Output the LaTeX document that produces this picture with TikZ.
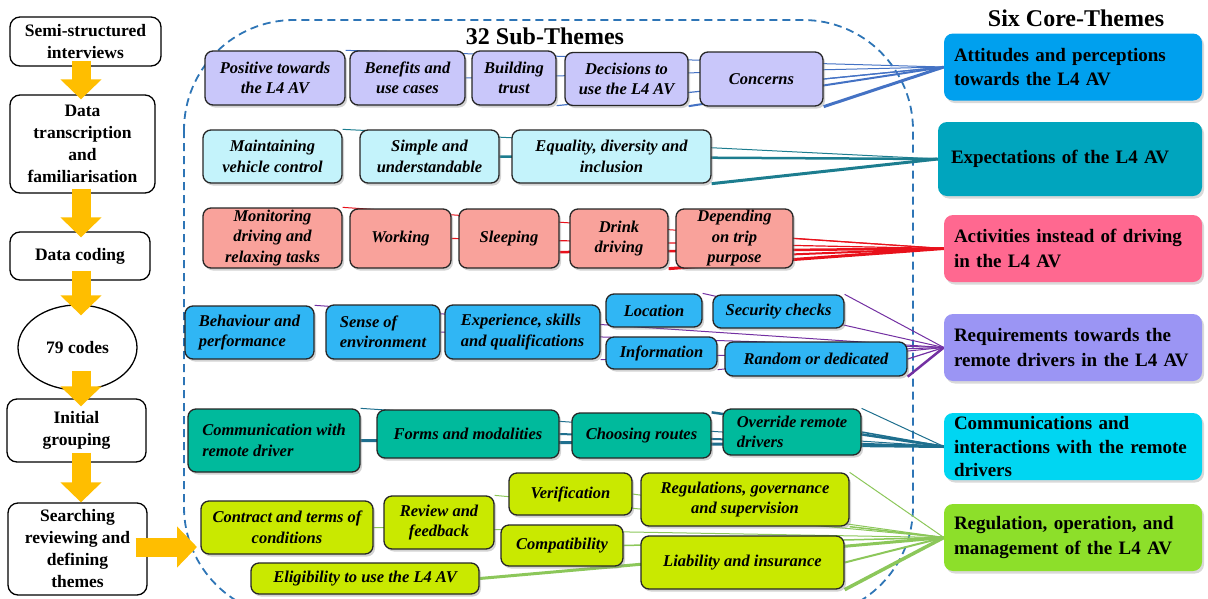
\documentclass[tikz,border=0pt]{standalone}
\usepackage{fontspec}
\setmainfont{Liberation Serif}
\usetikzlibrary{arrows.meta,calc,shapes.geometric,shadows,backgrounds}
\definecolor{lavfill}{HTML}{C9C7FA}
\definecolor{icefill}{HTML}{C4F3FB}
\definecolor{salmonfill}{HTML}{F9A29B}
\definecolor{skyfill}{HTML}{30B6F4}
\definecolor{tealfill}{HTML}{00BA9C}
\definecolor{limefill}{HTML}{C9E900}
\definecolor{attcore}{HTML}{00A0EE}
\definecolor{expcore}{HTML}{00A5BE}
\definecolor{actcore}{HTML}{FF6890}
\definecolor{reqcore}{HTML}{9B95F4}
\definecolor{comcore}{HTML}{00D6F2}
\definecolor{regcore}{HTML}{8DDF2A}
\definecolor{attline}{HTML}{4472C4}
\definecolor{expline}{HTML}{1C7D8F}
\definecolor{actline}{HTML}{E8111B}
\definecolor{reqline}{HTML}{7330A2}
\definecolor{comline}{HTML}{1E6F8E}
\definecolor{regline}{HTML}{8CC75A}
\definecolor{arrowor}{HTML}{FFBE00}
\definecolor{fenceblue}{HTML}{2E75B6}
\newcommand\stepfont{\bfseries\fontsize{17.5}{22}\selectfont}
\newcommand\subfont{\bfseries\itshape\fontsize{16.5}{20.5}\selectfont}
\newcommand\corefont{\bfseries\fontsize{19}{24.5}\selectfont}
\newcommand\headfont{\bfseries\fontsize{24}{28}\selectfont}
\tikzset{
  stage/.style={draw=black, fill=white, line width=1.3pt, rounded corners=10pt,
    inner sep=0pt, align=center, font=\stepfont},
  sub/.style={draw=black!85, line width=1.3pt, rounded corners=8pt, inner sep=1pt,
    align=center, font=\subfont,
    drop shadow={shadow xshift=2pt, shadow yshift=-2.5pt, opacity=0.35}},
  attsub/.style={sub, fill=lavfill},
  expsub/.style={sub, fill=icefill},
  actsub/.style={sub, fill=salmonfill},
  reqsub/.style={sub, fill=skyfill},
  comsub/.style={sub, fill=tealfill},
  regsub/.style={sub, fill=limefill},
  core/.style={rounded corners=9pt, font=\corefont, text width=238pt, align=left,
    inner xsep=10pt, inner ysep=0pt, minimum height=67pt,
    drop shadow={shadow xshift=2pt, shadow yshift=-2.5pt, opacity=0.3}},
  sz/.style 2 args={minimum width=#1, minimum height=#2},
  flowarrow/.style={draw=arrowor, line width=19pt, -{Triangle[width=40pt,length=20pt]}},
  fence/.style={draw=fenceblue, line width=1.8pt, dash pattern=on 8pt off 5pt,
    rounded corners=110pt},
  tie/.style={draw=#1},
}
\begin{document}
\begin{tikzpicture}[x=1pt,y=-1pt]
  \useasboundingbox (0,0) rectangle (1208,598);
  % process steps
  \node[stage, sz={151pt}{49pt}] (sem) at (85.5,41.5) {Semi-structured\\interviews};
  \node[stage, sz={145pt}{98pt}] (dat) at (82.5,144) {Data\\transcription\\and\\familiarisation};
  \node[stage, sz={140pt}{48pt}] (cod) at (80,256) {Data coding};
  \node[stage, ellipse, sharp corners, sz={119pt}{85pt}] (cds) at (77.5,347.5) {79 codes};
  \node[stage, sz={139pt}{63pt}] (ini) at (76.5,430.5) {Initial\\grouping};
  \node[stage, sz={139pt}{92pt}] (sea) at (77.5,549) {Searching\\reviewing and\\defining\\themes};
  % headings
  \node[font=\headfont] (subhead) at (545,36) {32 Sub-Themes};
  \node[font=\headfont] (corehead) at (1076,18) {Six Core-Themes};
  % core themes
  \node[core, fill=attcore, minimum width=258pt] (att) at (1073,67) {Attitudes and perceptions\\towards the L4 AV};
  \node[core, fill=expcore, inner xsep=13pt, minimum height=74pt] (exp) at (1070,159) {Expectations of the L4 AV};
  \node[core, fill=actcore] (act) at (1073,248.5) {Activities instead of driving\\in the L4 AV};
  \node[core, fill=reqcore] (req) at (1073,347.5) {Requirements towards the\\remote drivers in the L4 AV};
  \node[core, fill=comcore, font=\bfseries\fontsize{19}{23.5}\selectfont] (com) at (1073,446.5) {Communications and\\interactions with the remote\\drivers};
  \node[core, fill=regcore] (reg) at (1073,537.5) {Regulation, operation, and\\management of the L4 AV};
  % sub-themes, row by row
  \node[attsub, sz={140pt}{54pt}] (pos) at (275,78) {Positive towards\\the L4 AV};
  \node[attsub, sz={115pt}{54pt}] (ben) at (407.5,78) {Benefits and\\use cases};
  \node[attsub, sz={84pt}{54pt}] (bui) at (514,78) {Building\\trust};
  \node[attsub, sz={123pt}{53pt}] (dec) at (626.5,79) {Decisions to\\use the L4 AV};
  \node[attsub, sz={123pt}{54pt}] (cns) at (761.5,79) {Concerns};
  \node[expsub, sz={139pt}{53pt}] (mai) at (272.5,156.5) {Maintaining\\vehicle control};
  \node[expsub, sz={139pt}{53pt}] (sim) at (429.5,156.5) {Simple and\\understandable};
  \node[expsub, sz={199pt}{53pt}] (equ) at (611.5,156.5) {Equality, diversity and\\inclusion};
  \node[actsub, sz={139pt}{60pt}, inner sep=0pt] (mon) at (272.5,238) {Monitoring\\driving and\\relaxing tasks};
  \node[actsub, sz={101pt}{59pt}] (wor) at (400.5,238.5) {Working};
  \node[actsub, sz={100pt}{59pt}] (sle) at (509,238.5) {Sleeping};
  \node[actsub, sz={98pt}{59pt}] (dri) at (619,238.5) {Drink\\driving};
  \node[actsub, sz={117pt}{59pt}, inner sep=0pt] (dep) at (734.5,238.5) {Depending\\on trip\\purpose};
  \node[reqsub, sz={129pt}{53pt}, align=left] (beh) at (249.5,332.5) {Behaviour and\\performance};
  \node[reqsub, sz={114pt}{54pt}, align=left] (sen) at (383,332) {Sense of\\environment};
  \node[reqsub, sz={155pt}{54pt}, align=left] (exq) at (522.5,332) {Experience, skills\\and qualifications};
  \node[reqsub, sz={96pt}{33pt}] (loc) at (654,310.5) {Location};
  \node[reqsub, sz={131pt}{33pt}] (sec) at (778.5,311.5) {Security checks};
  \node[reqsub, sz={111pt}{32pt}] (inf) at (661.5,353) {Information};
  \node[reqsub, sz={182pt}{34pt}] (ran) at (816,359) {Random or dedicated};
  \node[comsub, sz={172pt}{63pt}, align=left] (cwr) at (274,440.5) {Communication with\\remote driver};
  \node[comsub, sz={182pt}{48pt}] (frm) at (468,434) {Forms and modalities};
  \node[comsub, sz={139pt}{45pt}] (cho) at (641.5,435.5) {Choosing routes};
  \node[comsub, sz={138pt}{46pt}, align=left] (ove) at (792,432) {Override remote\\drivers};
  \node[regsub, sz={172pt}{53pt}] (ctr) at (287,527.5) {Contract and terms of\\conditions};
  \node[regsub, sz={110pt}{53pt}] (rev) at (439,522.5) {Review and\\feedback};
  \node[regsub, sz={123pt}{42pt}] (ver) at (570.5,494) {Verification};
  \node[regsub, sz={208pt}{53pt}] (rgs) at (745,499.5) {Regulations, governance\\and supervision};
  \node[regsub, sz={122pt}{41pt}] (cmp) at (562,545.5) {Compatibility};
  \node[regsub, sz={203pt}{53pt}] (lia) at (742.5,562.5) {Liability and insurance};
  \node[regsub, sz={228pt}{31pt}] (eli) at (365,578.5) {Eligibility to use the L4 AV};
  % links behind the boxes
  \begin{scope}[on background layer]
    \draw[fence] (184,20) rectangle (913,617);
    \draw[tie=attline, line width=1pt] (pos.north east) -- (att.west);
    \draw[tie=attline, line width=1pt] (ben.east) -- (att.west);
    \draw[tie=attline, line width=1.2pt] (bui.south east) -- (att.west);
    \draw[tie=attline, line width=2pt] (dec.south east) -- (att.west);
    \draw[tie=attline, line width=1.2pt] (cns.east) -- (att.west);
    \draw[tie=attline, line width=3pt] (cns.south east) -- (att.west);
    \draw[tie=expline, line width=1pt] (mai.north east) -- (exp.west);
    \draw[tie=expline, line width=2.5pt] (sim.east) -- (exp.west);
    \draw[tie=expline, line width=3pt] (equ.south east) -- (exp.west);
    \draw[tie=actline, line width=1pt] (mon.north east) -- (act.west);
    \draw[tie=actline, line width=1.2pt] (wor.east) -- (act.west);
    \draw[tie=actline, line width=2.5pt] (sle.-15) -- (act.west);
    \draw[tie=actline, line width=3pt] (dri.south east) -- (act.west);
    \draw[tie=actline, line width=1.2pt] (dep.east) -- (act.west);
    \draw[tie=actline, line width=2pt] (dep.-15) -- (act.west);
    \draw[tie=reqline, line width=1pt] (beh.north east) -- (req.west);
    \draw[tie=reqline, line width=1pt] (sen.east) -- (req.west);
    \draw[tie=reqline, line width=1pt] (exq.south east) -- (req.west);
    \draw[tie=reqline, line width=1pt] (loc.north east) -- (req.west);
    \draw[tie=reqline, line width=1pt] (sec.north east) -- (req.west);
    \draw[tie=reqline, line width=1pt] (inf.south east) -- (req.west);
    \draw[tie=reqline, line width=1.2pt] (ran.east) -- (req.west);
    \draw[tie=reqline, line width=2.5pt] (ran.south east) -- (req.west);
    \draw[tie=comline, line width=1pt] (cwr.north east) -- (com.west);
    \draw[tie=comline, line width=3pt] (cwr.east) -- (com.west);
    \draw[tie=comline, line width=2pt] (frm.east) -- (com.west);
    \draw[tie=comline, line width=2.5pt] (cho.north east) -- (com.west);
    \draw[tie=comline, line width=1pt] (ove.north east) -- (com.west);
    \draw[tie=comline, line width=1.5pt] (ove.east) -- (com.west);
    \draw[tie=regline, line width=1pt] (ctr.east) -- (reg.west);
    \draw[tie=regline, line width=1pt] (rev.north east) -- (reg.west);
    \draw[tie=regline, line width=1pt] (ver.east) -- (reg.west);
    \draw[tie=regline, line width=1pt] (rgs.north east) -- (reg.west);
    \draw[tie=regline, line width=1.5pt] (rgs.south east) -- (reg.west);
    \draw[tie=regline, line width=1.5pt] (cmp.east) -- (reg.west);
    \draw[tie=regline, line width=2pt] (lia.east) -- (reg.west);
    \draw[tie=regline, line width=3.5pt] (lia.south east) -- (reg.west);
    \draw[tie=regline, line width=3pt] (eli.east) -- (reg.west);
  \end{scope}
  % process arrows
  \coordinate (axis) at (81,0);
  \coordinate (tip) at (197,547);
  \draw[flowarrow] ($(sem.south -| axis)+(0,-6)$) -- ($(dat.north -| axis)+(0,5)$);
  \draw[flowarrow] ($(dat.south -| axis)+(0,-5)$) -- ($(cod.north -| axis)+(0,6)$);
  \draw[flowarrow] ($(cod.south -| axis)+(0,-10)$) -- ($(cds.north -| axis)+(0,11)$);
  \draw[flowarrow] ($(cds.south -| axis)+(0,-20)$) -- ($(ini.north -| axis)+(0,8)$);
  \draw[flowarrow] ($(ini.south -| axis)+(0,-10)$) -- (sea.north -| axis);
  \draw[flowarrow] ($(sea.east |- tip)+(-12,0)$) -- (tip);
\end{tikzpicture}
\end{document}
